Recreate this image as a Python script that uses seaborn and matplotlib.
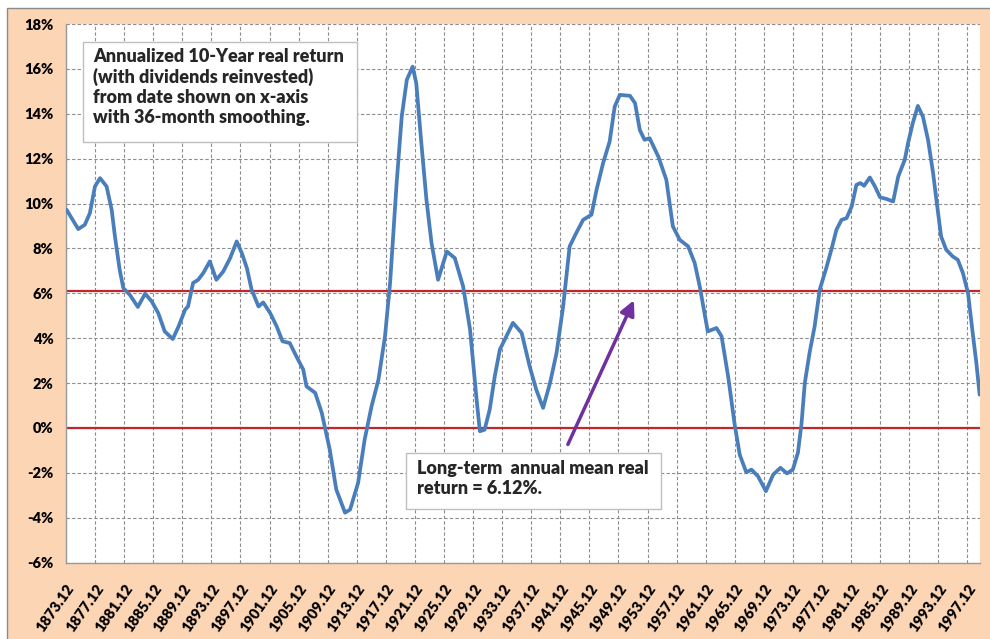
import seaborn as sns
import pandas as pd
import numpy as np
import matplotlib.pyplot as plt
from matplotlib.patches import Rectangle

# decimal year of start date, annualized 10-yr real return (%)
years = [1874.0, 1875.6, 1876.5, 1877.2, 1877.9, 1878.6, 1879.5, 1880.2, 1880.65, 1881.3,
         1881.8, 1882.7, 1883.8, 1884.8, 1885.7, 1886.6, 1887.5, 1888.6, 1889.4, 1890.3,
         1890.7, 1891.4, 1892.1, 1892.8, 1893.7, 1894.6, 1895.55, 1896.5, 1897.4, 1898.1,
         1898.8, 1899.45, 1900.4, 1901.05, 1902.0, 1902.9, 1903.7, 1904.7, 1905.6, 1906.55,
         1907.0, 1908.2, 1909.1, 1910.2, 1911.1, 1912.3, 1913.0, 1914.1, 1915.0, 1915.95,
         1916.9, 1917.8, 1918.5, 1919.4, 1920.1, 1920.8, 1921.6, 1922.1, 1922.8, 1923.5,
         1924.2, 1925.1, 1926.3, 1927.4, 1928.55, 1929.5, 1930.4, 1930.85, 1931.5, 1932.2,
         1932.9, 1933.6, 1934.5, 1935.4, 1936.6, 1937.7, 1938.6, 1939.55, 1940.5, 1941.4,
         1942.3, 1943.2, 1944.1, 1945.05, 1946.2, 1946.9, 1947.8, 1948.7, 1949.4, 1950.1,
         1951.5, 1952.2, 1952.85, 1953.5, 1954.2, 1955.4, 1956.5, 1957.4, 1958.35, 1959.5,
         1960.4, 1961.1, 1962.2, 1963.4, 1964.1, 1965.0, 1965.9, 1966.6, 1967.5, 1968.2,
         1969.1, 1970.2, 1971.2, 1972.2, 1973.1, 1973.9, 1974.6, 1975.1, 1975.55, 1976.2,
         1976.9, 1977.6, 1978.5, 1979.2, 1979.9, 1980.6, 1981.3, 1982.0, 1982.65, 1983.2,
         1983.7, 1984.5, 1985.2, 1985.9, 1986.8, 1987.7, 1988.4, 1989.3, 1989.75, 1990.4,
         1991.1, 1991.8, 1992.5, 1993.2, 1993.65, 1994.3, 1995.0, 1995.9, 1996.6, 1997.3,
         1998.0, 1998.7, 1999.15, 1999.6]
returns = [9.72, 8.86, 9.05, 9.57, 10.76, 11.13, 10.76, 9.72, 8.53, 7.05,
           6.23, 5.93, 5.39, 5.98, 5.64, 5.12, 4.30, 3.96, 4.52, 5.27,
           5.41, 6.46, 6.60, 6.90, 7.42, 6.60, 6.97, 7.57, 8.31, 7.79,
           7.12, 6.16, 5.41, 5.59, 5.12, 4.52, 3.86, 3.78, 3.19, 2.60,
           1.85, 1.56, 0.67, -0.97, -2.75, -3.78, -3.64, -2.45, -0.52, 0.96,
           2.15, 4.08, 6.46, 10.91, 13.87, 15.51, 16.10, 15.36, 12.69, 10.17,
           8.24, 6.60, 7.86, 7.57, 6.30, 4.38, 1.26, -0.15, -0.08, 0.81,
           2.30, 3.49, 4.08, 4.68, 4.23, 2.74, 1.71, 0.89, 2.00, 3.34,
           5.40, 8.09, 8.68, 9.27, 9.50, 10.61, 11.80, 12.76, 14.32, 14.84,
           14.80, 14.47, 13.28, 12.84, 12.91, 12.09, 11.06, 8.98, 8.38, 8.09,
           7.35, 6.30, 4.30, 4.45, 4.08, 2.30, 0.15, -1.20, -1.98, -1.86,
           -2.15, -2.82, -2.08, -1.78, -2.03, -1.86, -1.11, 0.20, 2.00, 3.34,
           4.52, 6.16, 7.12, 7.94, 8.83, 9.27, 9.35, 9.87, 10.83, 10.91,
           10.79, 11.16, 10.76, 10.28, 10.20, 10.09, 11.20, 11.95, 12.69, 13.58,
           14.35, 13.87, 12.84, 11.35, 10.17, 8.53, 7.94, 7.64, 7.49, 6.90,
           6.01, 4.08, 2.89, 1.48]

mean_return = 6.12
tick_years = list(range(1873, 1998, 4))
tick_labels = [f"{y}.12" for y in tick_years]

df = pd.DataFrame({"year": years, "ret": returns})

sns.set_style("white")
plt.rcParams['font.family'] = ['Lato', 'DejaVu Sans']
plt.rcParams['font.weight'] = 'heavy'

fig = plt.figure(figsize=(9.9, 6.39), dpi=100, facecolor='white')
fig.patches.append(Rectangle((7 / 990, -0.05), 1.1, (639 - 8) / 639 + 0.05,
                             transform=fig.transFigure, facecolor='#FCD5B5',
                             edgecolor='#8a8a8a', lw=1.0, zorder=-5))
ax = fig.add_axes([66 / 990, 1 - 562.5 / 639, 914 / 990, 538.5 / 639])
ax.set_facecolor('white')

ax.axhline(0, color='#C0272D', lw=1.6, zorder=2)
ax.axhline(mean_return, color='#C0272D', lw=1.6, zorder=2)

sns.lineplot(data=df, x="year", y="ret", ax=ax, color='#4A7EBB', lw=2.7,
             estimator=None, zorder=3)

ax.set_xlim(1873 + 11 / 12, 1999.65)
ax.set_ylim(-6, 18)
ax.set_xticks([y + 11 / 12 for y in tick_years])
ax.set_xticklabels(tick_labels, rotation=55, ha='right', rotation_mode='anchor',
                   fontsize=10.5, fontweight='heavy')
ax.set_yticks(np.arange(-6, 19, 2))
ax.set_yticklabels([f"{v}%" for v in range(-6, 19, 2)], fontsize=10.5, fontweight='heavy')
ax.set_xlabel("")
ax.set_ylabel("")

ax.grid(True, ls=(0, (3, 2)), color='#8c8c8c', lw=0.8, zorder=0)
ax.set_axisbelow(True)
for s in ['top', 'right']:
    ax.spines[s].set_visible(False)
for s in ['left', 'bottom']:
    ax.spines[s].set_color('#9a9a9a')
    ax.spines[s].set_linewidth(1.0)
ax.tick_params(axis='both', direction='out', length=6, width=1, color='#9a9a9a',
               pad=3, labelcolor='black')
ax.tick_params(axis='x', pad=8)

# text boxes
ax.add_patch(Rectangle((0.0186, 0.781), 0.2998, 0.1856, transform=ax.transAxes,
                       facecolor='white', edgecolor='#bfbfbf', lw=1.0, zorder=5))
ax.text(0.0295, 0.956, "Annualized 10-Year real return\n(with dividends reinvested)\n"
        "from date shown on x-axis\nwith 36-month smoothing.",
        transform=ax.transAxes, ha='left', va='top', fontsize=13,
        fontweight='heavy', linespacing=1.22, zorder=6)

ax.add_patch(Rectangle((0.372, 0.0988), 0.279, 0.1052, transform=ax.transAxes,
                       facecolor='white', edgecolor='#bfbfbf', lw=1.0, zorder=5))
ax.text(0.384, 0.19, "Long-term  annual mean real\nreturn = 6.12%.",
        transform=ax.transAxes, ha='left', va='top', fontsize=13,
        fontweight='heavy', linespacing=1.22, zorder=6)

ax.annotate("", xy=(1952.2, 5.8), xytext=(1942.8, -0.85),
            arrowprops=dict(arrowstyle='-|>', color='#7030A0', lw=2.5,
                            mutation_scale=22), zorder=4)

fig.savefig("out.png", dpi=100, facecolor='white')
